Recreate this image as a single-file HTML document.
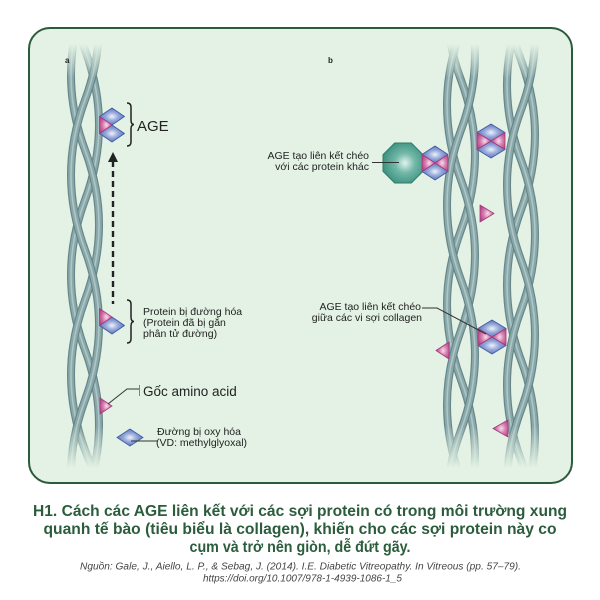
<!DOCTYPE html>
<html><head><meta charset="utf-8">
<style>
html,body{margin:0;padding:0;background:#fff;width:600px;height:600px;overflow:hidden;position:relative;}
svg{display:block;position:absolute;left:0;top:0;}
</style></head>
<body>
<svg width="600" height="600" viewBox="0 0 600 600" xmlns="http://www.w3.org/2000/svg" overflow="hidden">
<defs>
  <radialGradient id="gb" cx="50%" cy="50%" r="55%">
    <stop offset="0%" stop-color="#eef2fb"/>
    <stop offset="45%" stop-color="#97a9da"/>
    <stop offset="100%" stop-color="#566fb6"/>
  </radialGradient>
  <radialGradient id="gp" cx="55%" cy="50%" r="60%">
    <stop offset="0%" stop-color="#f6dcea"/>
    <stop offset="50%" stop-color="#d57cae"/>
    <stop offset="100%" stop-color="#b54287"/>
  </radialGradient>
  <radialGradient id="go" cx="55%" cy="50%" r="55%">
    <stop offset="0%" stop-color="#e2f3ee"/>
    <stop offset="45%" stop-color="#72b8a9"/>
    <stop offset="100%" stop-color="#3f9381"/>
  </radialGradient>
  <linearGradient id="fade" gradientUnits="userSpaceOnUse" x1="0" y1="44" x2="0" y2="468">
    <stop offset="0" stop-color="#fff" stop-opacity="0"/>
    <stop offset="0.08" stop-color="#fff" stop-opacity="1"/>
    <stop offset="0.9" stop-color="#fff" stop-opacity="1"/>
    <stop offset="1" stop-color="#fff" stop-opacity="0"/>
  </linearGradient>
  <mask id="m" maskUnits="userSpaceOnUse" x="0" y="0" width="600" height="560">
    <rect x="0" y="0" width="600" height="560" fill="url(#fade)"/>
  </mask>
  <clipPath id="cp"><rect x="30" y="30" width="540" height="450"/></clipPath>
  <path id="sN" d="M0,0 q28,75 0,150 t0,150 t0,150 t0,150"/>
  <path id="sNe" d="M0,0 q28,75 0,150 t0,150 t0,150 t0,150 l8,21"/>
  <path id="sMe" d="M0,0 q-28,75 0,150 t0,150 t0,150 t0,150 l-8,21"/>
  <g id="stN">
    <use href="#sN" stroke="#66868a" stroke-width="8"/>
    <use href="#sN" stroke="#8aa8a9" stroke-width="5.6"/>
    <use href="#sN" stroke="#adc6c6" stroke-width="1.6"/>
  </g>
  <g id="stNe">
    <use href="#sNe" stroke="#66868a" stroke-width="8"/>
    <use href="#sNe" stroke="#8aa8a9" stroke-width="5.6"/>
    <use href="#sNe" stroke="#adc6c6" stroke-width="1.6"/>
  </g>
  <g id="stMe">
    <use href="#sMe" stroke="#66868a" stroke-width="8"/>
    <use href="#sMe" stroke="#8aa8a9" stroke-width="5.6"/>
    <use href="#sMe" stroke="#adc6c6" stroke-width="1.6"/>
  </g>
</defs>

<rect x="29" y="28" width="543" height="455" rx="21" ry="21" fill="#e3f2e4" stroke="#2c5a3d" stroke-width="2"/>

<!-- fibers -->
<g clip-path="url(#cp)">
<g mask="url(#m)" fill="none" stroke-linecap="round">
  <use href="#stMe" transform="translate(85,-100)"/>
  <use href="#stNe" transform="translate(85,-150)"/>
  <use href="#stN" transform="translate(85,-50)"/>

  <use href="#stMe" transform="translate(461,-70)"/>
  <use href="#stNe" transform="translate(461,-120)"/>
  <use href="#stN" transform="translate(461,-20)"/>

  <use href="#stMe" transform="translate(521,-90)"/>
  <use href="#stNe" transform="translate(521,-140)"/>
  <use href="#stN" transform="translate(521,-40)"/>
</g>
</g>

<!-- panel labels -->
<g font-family="'Liberation Sans', sans-serif" fill="#222">
  <text x="65" y="63" font-size="8" font-weight="bold">a</text>
  <text x="328" y="63" font-size="8" font-weight="bold">b</text>
</g>

<!-- Panel a: AGE cluster -->
<g stroke-width="0.8" stroke-linejoin="round">
  <polygon points="112,108 124.5,116.5 112,125 99.5,116.5" fill="url(#gb)" stroke="#3f58a3"/>
  <polygon points="112,125 124.5,133.5 112,142 99.5,133.5" fill="url(#gb)" stroke="#3f58a3"/>
  <polygon points="99.5,116.5 112,125 99.5,133.5" fill="url(#gp)" stroke="#a33b7b"/>
</g>
<path d="M127,103 q4,0 4,4 v13 q0,4.5 3,4.5 q-3,0 -3,4.5 v13 q0,4 -4,4" fill="none" stroke="#222" stroke-width="1.5"/>
<text x="137" y="131" font-family="'Liberation Sans', sans-serif" font-size="15" fill="#222">AGE</text>

<!-- dashed arrow -->
<line x1="113" y1="161" x2="113" y2="304" stroke="#222" stroke-width="2.4" stroke-dasharray="6,4"/>
<polygon points="113,152 108,162 118,162" fill="#222"/>

<!-- glycated protein cluster -->
<g stroke-width="0.8" stroke-linejoin="round">
  <polygon points="112,317 124.5,325.5 112,334 99.5,325.5" fill="url(#gb)" stroke="#3f58a3"/>
  <polygon points="99.5,308.5 112,317 99.5,325.5" fill="url(#gp)" stroke="#a33b7b"/>
</g>
<path d="M127,300 q4,0 4,4 v13 q0,4.5 3,4.5 q-3,0 -3,4.5 v13 q0,4 -4,4" fill="none" stroke="#222" stroke-width="1.5"/>
<g font-family="'Liberation Sans', sans-serif" font-size="10.5" fill="#222">
  <text x="143" y="315">Protein bị đường hóa</text>
  <text x="143" y="326">(Protein đã bị gắn</text>
  <text x="143" y="337">phân tử đường)</text>
</g>

<!-- amino acid -->
<polygon points="100,398 112,406 100,414" fill="url(#gp)" stroke="#a33b7b" stroke-width="0.8"/>
<polyline points="139,389 127,389 108,404" fill="none" stroke="#333" stroke-width="1"/>
<line x1="139.5" y1="385" x2="139.5" y2="396" stroke="#555" stroke-width="0.7"/>
<text x="143" y="396" font-family="'Liberation Sans', sans-serif" font-size="13.5" fill="#222">Gốc amino acid</text>

<!-- oxidized sugar -->
<polygon points="130,429 143,437.5 130,446 117,437.5" fill="url(#gb)" stroke="#3f58a3" stroke-width="0.8"/>
<line x1="131" y1="441" x2="157" y2="441" stroke="#333" stroke-width="1"/>
<g font-family="'Liberation Sans', sans-serif" font-size="10.5" fill="#222">
  <text x="157" y="435">Đường bị oxy hóa</text>
  <text x="156" y="446">(VD: methylglyoxal)</text>
</g>

<!-- Panel b -->
<g font-family="'Liberation Sans', sans-serif" font-size="10.5" fill="#222" text-anchor="end">
  <text x="369" y="159">AGE tạo liên kết chéo</text>
  <text x="369" y="170">với các protein khác</text>
  <text x="421" y="310">AGE tạo liên kết chéo</text>
  <text x="422" y="321">giữa các vi sợi collagen</text>
</g>
<polygon points="423,154.7 411.3,143 394.7,143 383,154.7 383,171.3 394.7,183 411.3,183 423,171.3" fill="url(#go)" stroke="#2f7a6a" stroke-width="1"/>
<line x1="372" y1="162.5" x2="399" y2="162.5" stroke="#333" stroke-width="1"/>

<g stroke-width="0.8" stroke-linejoin="round">
  <polygon points="435,146 448,154.5 435,163 422,154.5" fill="url(#gb)" stroke="#3f58a3"/>
  <polygon points="435,163 448,171.5 435,180 422,171.5" fill="url(#gb)" stroke="#3f58a3"/>
  <polygon points="422,154.5 435,163 422,171.5" fill="url(#gp)" stroke="#a33b7b"/>
  <polygon points="448,154.5 435,163 448,171.5" fill="url(#gp)" stroke="#a33b7b"/>
</g>
<g stroke-width="0.8" stroke-linejoin="round">
  <polygon points="491,124 505,132.5 491,141 477,132.5" fill="url(#gb)" stroke="#3f58a3"/>
  <polygon points="491,141 505,149.5 491,158 477,149.5" fill="url(#gb)" stroke="#3f58a3"/>
  <polygon points="477,132.5 491,141 477,149.5" fill="url(#gp)" stroke="#a33b7b"/>
  <polygon points="505,132.5 491,141 505,149.5" fill="url(#gp)" stroke="#a33b7b"/>
</g>
<g stroke-width="0.8" stroke-linejoin="round">
  <polygon points="492,320 506,328.5 492,337 478,328.5" fill="url(#gb)" stroke="#3f58a3"/>
  <polygon points="492,337 506,345.5 492,354 478,345.5" fill="url(#gb)" stroke="#3f58a3"/>
  <polygon points="478,328.5 492,337 478,345.5" fill="url(#gp)" stroke="#a33b7b"/>
  <polygon points="506,328.5 492,337 506,345.5" fill="url(#gp)" stroke="#a33b7b"/>
</g>
<polyline points="422,308 437,308 486,334" fill="none" stroke="#333" stroke-width="1"/>

<g stroke="#a33b7b" stroke-width="0.8" stroke-linejoin="round">
  <polygon points="480,205 494,213.5 480,222" fill="url(#gp)"/>
  <polygon points="449,342 436,350.5 449,359" fill="url(#gp)"/>
  <polygon points="508,420 493,428.5 508,437" fill="url(#gp)"/>
</g>

<!-- caption -->
<g font-family="'Liberation Sans', sans-serif" font-weight="bold" font-size="16" fill="#2b5c3c" text-anchor="middle">
  <text x="300" y="516" textLength="534" lengthAdjust="spacingAndGlyphs">H1. Cách các AGE liên kết với các sợi protein có trong môi trường xung</text>
  <text x="300" y="534" textLength="513" lengthAdjust="spacingAndGlyphs">quanh tế bào (tiêu biểu là collagen), khiến cho các sợi protein này co</text>
  <text x="300" y="552" textLength="221" lengthAdjust="spacingAndGlyphs">cụm và trở nên giòn, dễ đứt gãy.</text>
</g>
<g font-family="'Liberation Sans', sans-serif" font-style="italic" font-size="10" fill="#444" text-anchor="middle">
  <text x="300.5" y="569.5" textLength="441" lengthAdjust="spacingAndGlyphs">Nguồn: Gale, J., Aiello, L. P., &amp; Sebag, J. (2014). I.E. Diabetic Vitreopathy. In Vitreous (pp. 57–79).</text>
  <text x="302.5" y="581.5" textLength="199" lengthAdjust="spacingAndGlyphs">https://doi.org/10.1007/978-1-4939-1086-1_5</text>
</g>
</svg>
</body></html>
